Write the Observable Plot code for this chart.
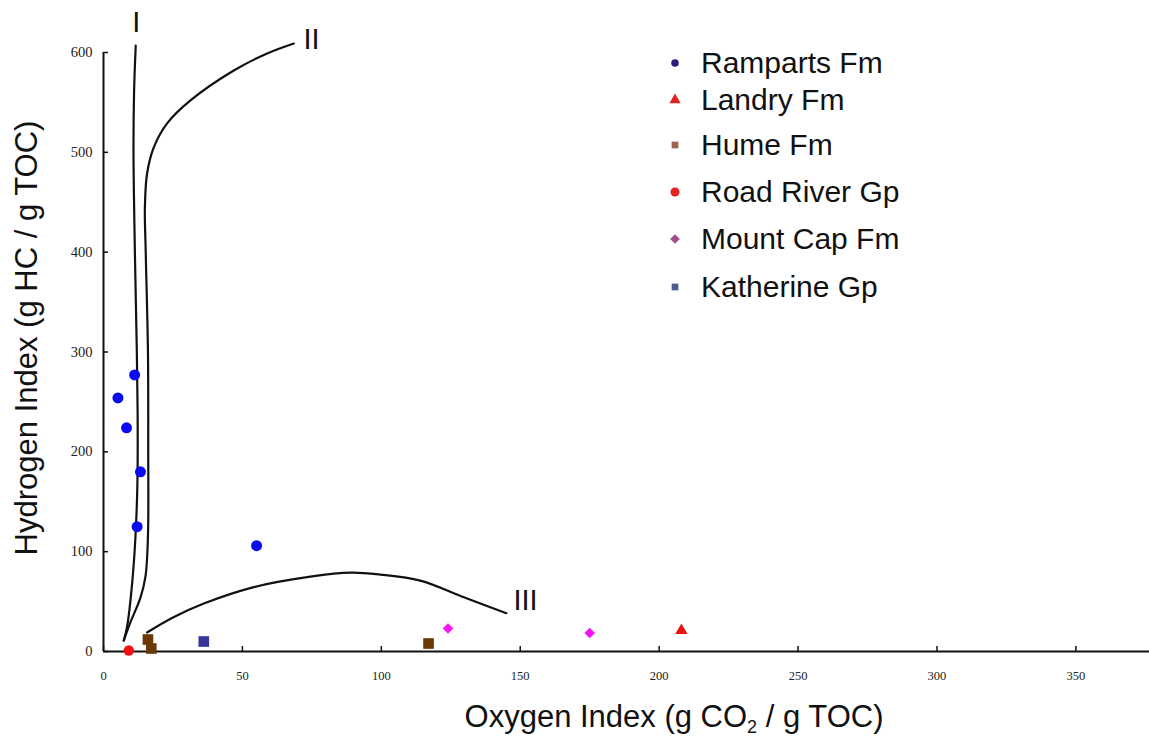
<!DOCTYPE html>
<html><head><meta charset="utf-8">
<script src="https://cdn.jsdelivr.net/npm/d3@7"></script>
<script src="https://cdn.jsdelivr.net/npm/@observablehq/plot@0.6"></script>
<style>
html,body{margin:0;padding:0;background:#fff;}
#wrap{position:relative;width:1149px;height:740px;overflow:hidden;}
#legend{position:absolute;left:0;top:0;font-family:"Liberation Sans",Arial,sans-serif;color:#111;}
.row{position:absolute;white-space:nowrap;font-size:30px;line-height:30px;}
.row svg{position:absolute;}
</style></head><body><div id="wrap"></div>
<script>
// ---- data ----
const seriesNames = ["Ramparts Fm","Landry Fm","Hume Fm","Road River Gp","Mount Cap Fm","Katherine Gp"];
const rampartsOI = [11.2, 5.2, 8.3, 13.3, 12.1, 55.1];
const rampartsHI = [277, 254, 224, 180, 125, 106];
const landryOI = [208];
const landryHI = [21];
const humeOI = [16, 17.2, 117];
const humeHI = [12, 3, 8];
const roadRiverOI = [9.1];
const roadRiverHI = [1];
const mountCapOI = [124, 175];
const mountCapHI = [23, 18.5];
const katherineOI = [36.1];
const katherineHI = [10];

// kerogen type curves
const curveIOI = [7.3, 8.5, 10.3, 11.5, 12.2, 12.3, 12.0, 11.3, 10.8, 11.0, 11.6];
const curveIHI = [11, 25, 68, 115, 168, 230, 300, 400, 500, 560, 607];
const curveIIOI = [7.3, 9.5, 13.3, 15.1, 16.0, 16.1, 16.0, 15.2, 14.9, 15.7, 18.1, 22.9, 31.3, 46.9, 58.9, 68.5];
const curveIIHI = [11, 28, 54, 75, 115, 200, 300, 400, 445, 479, 505, 529, 552, 582, 599, 609];
const curveIIIOI = [15.7, 25, 36.1, 54.1, 74.5, 89, 99.7, 114, 129.7, 145];
const curveIIIHI = [19, 34, 48, 64.5, 75, 79, 77, 71, 54.4, 38.4];
const curveNames = ["I", "II", "III"];
const curveLabelOI = [11.8, 74.9, 151.9];
const curveLabelHI = [630, 612.5, 51];

const xTicks = [0, 50, 100, 150, 200, 250, 300, 350];
const yTicks = [0, 100, 200, 300, 400, 500, 600];
const xDomain = [0, 376.5];
const yDomain = [0, 600];

// ---- build tables ----
const pts = (oi, hi) => oi.map((x, i) => ({x, y: hi[i]}));
const curves = [
  ...pts(curveIOI, curveIHI).map(d => ({...d, c: "I"})),
  ...pts(curveIIOI, curveIIHI).map(d => ({...d, c: "II"})),
  ...pts(curveIIIOI, curveIIIHI).map(d => ({...d, c: "III"}))
];
const labels = curveNames.map((t, i) => ({t, x: curveLabelOI[i], y: curveLabelHI[i]}));

const serif = "Liberation Serif, Times New Roman, serif";
const sans = "Liberation Sans, Arial, sans-serif";

const chart = Plot.plot({
  width: 1149, height: 740,
  marginLeft: 103, marginRight: 0, marginTop: 52, marginBottom: 89,
  style: {background: "white", overflow: "visible"},
  x: {domain: xDomain},
  y: {domain: yDomain},
  marks: [
    Plot.ruleY([0], {x1: xDomain[0], x2: xDomain[1], stroke: "#111", strokeWidth: 2}),
    Plot.ruleX([0], {y1: yDomain[0], y2: yDomain[1], stroke: "#111", strokeWidth: 2}),
    Plot.axisX(xTicks, {tickSize: 5, dy: -5, tickFormat: () => "", label: null, stroke: "#111", strokeWidth: 1.5}),
    Plot.axisX(xTicks, {tickSize: 0, tickPadding: 20, fontSize: 12.5, fontFamily: serif, fill: "#222", label: null}),
    Plot.axisY(yTicks, {tickSize: 5, dx: 5, tickFormat: () => "", label: null, stroke: "#111", strokeWidth: 1.5}),
    Plot.axisY(yTicks, {tickSize: 0, tickPadding: 11, fontSize: 14.5, fontFamily: serif, fill: "#222", label: null}),
    Plot.line(curves, {x: "x", y: "y", z: "c", curve: "catmull-rom", stroke: "#111", strokeWidth: 2.2}),
    Plot.text(labels, {x: "x", y: "y", text: "t", fontSize: 29, fontFamily: sans, fill: "#111"}),
    Plot.dot(pts(rampartsOI, rampartsHI), {x: "x", y: "y", r: 5.5, fill: "#0b0bf2", symbol: "circle"}),
    Plot.dot(pts(roadRiverOI, roadRiverHI), {x: "x", y: "y", r: 5.2, fill: "#f01010", symbol: "circle"}),
    Plot.dot(pts(humeOI, humeHI), {x: "x", y: "y", r: 6, fill: "#6b3906", symbol: "square"}),
    Plot.dot(pts(katherineOI, katherineHI), {x: "x", y: "y", r: 6, fill: "#35359a", symbol: "square"}),
    Plot.dot(pts(mountCapOI, mountCapHI), {x: "x", y: "y", r: 4.8, fill: "#f514f5", symbol: "diamond2"}),
    Plot.dot(pts(landryOI, landryHI), {x: "x", y: "y", r: 4.6, fill: "#ee1111", symbol: "triangle"})
  ]
});

const svg = d3.select(chart);
const xt = svg.append("text")
  .attr("x", 674).attr("y", 727).attr("text-anchor", "middle")
  .attr("font-family", sans).attr("font-size", 31).attr("fill", "#111");
xt.append("tspan").text("Oxygen Index (g CO");
xt.append("tspan").attr("font-size", 18).attr("dy", 6).text("2");
xt.append("tspan").attr("dy", -6).text(" / g TOC)");
svg.append("text")
  .attr("transform", "translate(37,338) rotate(-90)")
  .attr("text-anchor", "middle")
  .attr("font-family", sans).attr("font-size", 31).attr("fill", "#111")
  .text("Hydrogen Index (g HC / g TOC)");

const wrap = document.getElementById("wrap");
wrap.appendChild(chart);

// ---- legend ----
const legendColors = ["#2b1b78", "#e0241f", "#a0644e", "#e0241f", "#a0508c", "#4d5c8c"];
const legendSymbols = [d3.symbolCircle, d3.symbolTriangle, d3.symbolSquare, d3.symbolCircle, d3.symbolDiamond2, d3.symbolSquare];
const legendSizes = [45, 55, 45, 65, 60, 45];
const legendRowY = [63, 100, 145, 192, 239, 287];
const legend = d3.select(wrap).append("div").attr("id", "legend");
seriesNames.forEach((name, i) => {
  const row = legend.append("div").attr("class", "row")
    .style("left", "660px").style("top", (legendRowY[i] - 15) + "px");
  const s = row.append("svg").attr("width", 30).attr("height", 30).style("left", "0px").style("top", "0px");
  s.append("path").attr("transform", "translate(15,15)")
    .attr("d", d3.symbol(legendSymbols[i], legendSizes[i])())
    .attr("fill", legendColors[i]);
  row.append("span").style("position", "absolute").style("left", "41px").style("top", "0px").text(name);
});
</script>
</body></html>
